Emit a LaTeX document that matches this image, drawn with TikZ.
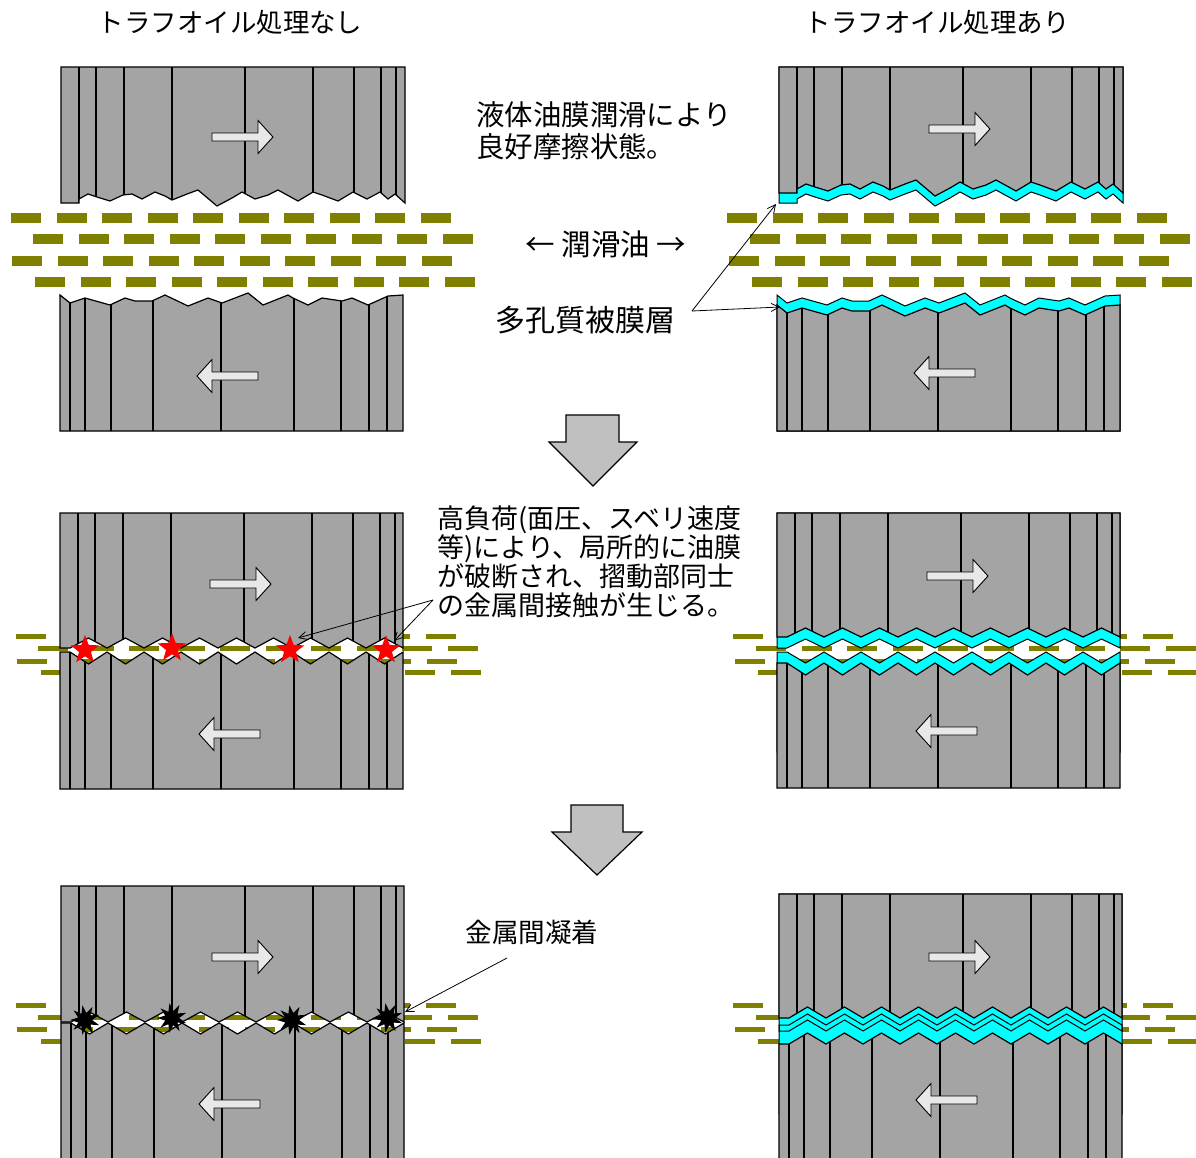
\documentclass[tikz,border=0pt]{standalone}
\usepackage{fontspec}
\setmainfont{Noto Sans CJK JP}
\usetikzlibrary{shapes.geometric,arrows.meta}

\definecolor{metal}{RGB}{164,164,164}
\definecolor{coatc}{RGB}{0,255,255}
\definecolor{oilc}{RGB}{128,128,0}
\definecolor{arrfill}{RGB}{232,232,232}
\definecolor{bigarr}{RGB}{192,192,192}

% regular zigzag, even vertices at y=#1, odd vertices at y=#2
\newcommand\zigpts[2]{\foreach \k in {0,...,8}{ -- ({10+37*\k},#1) -- ({28.5+37*\k},#2)} -- (343,#1)}
% upper plate with a regular zigzag underside
\newcommand\upperreg[2]{(0,0) -- (0,#1) \zigpts{#1}{#2} -- (343,0) -- cycle}
% lower plate with a regular zigzag top, height #3
\newcommand\lowerreg[3]{(0,#3) -- (0,#1) \zigpts{#1}{#2} -- (343,#3) -- cycle}
% upper plate with a rough underside, shifted by \zo
\newcommand\upperirr{(0,0) -- (0,\zo+136) -- (18,\zo+136) -- (18,\zo+132) -- (27,\zo+127) -- (36,\zo+130) -- (49,\zo+134) -- (62,\zo+128) -- (71,\zo+127) -- (81,\zo+132) -- (94,\zo+125) -- (104,\zo+129) -- (111,\zo+133) -- (126,\zo+127) -- (137,\zo+123) -- (156,\zo+139) -- (171,\zo+131) -- (181,\zo+125) -- (194,\zo+132) -- (207,\zo+128) -- (217,\zo+123) -- (237,\zo+134) -- (252,\zo+125) -- (261,\zo+128) -- (277,\zo+134) -- (292,\zo+125) -- (306,\zo+132) -- (319,\zo+125) -- (327,\zo+132) -- (334,\zo+127) -- (344,\zo+136) -- (344,0) -- cycle}
% lower plate with a rough top, shifted by \zo
\newcommand\lowerirr{(0,136) -- (0,\zo+0) -- (10,\zo+8) -- (25,\zo+3) -- (50,\zo+10) -- (65,\zo+3) -- (75,\zo+6) -- (92,\zo+6) -- (105,\zo+0) -- (128,\zo+11) -- (148,\zo+3) -- (162,\zo+8) -- (188,\zo-2) -- (203,\zo+10) -- (228,\zo+0) -- (233,\zo+3) -- (248,\zo+10) -- (262,\zo+3) -- (282,\zo+6) -- (292,\zo+3) -- (308,\zo+10) -- (328,\zo+1) -- (343,\zo+0) -- (343,136) -- cycle}

% grain lines of upper and lower plates
\def\gU{18,35,63,111,184,252,293,320,335}
\def\gL{10,25,51,93,161,234,281,309,327}

% a metal plate: fill, grain clipped to the outline, outline
\newcommand\plate[2]{%
  \fill[platefill] #1;
  \begin{scope}\clip #1; \foreach \g in #2 {\draw[grain] (\g,-20) -- (\g,320);}\end{scope}
  \draw[edge] #1;}

% one row of oil dashes
\newcommand\oilrow[3]{\foreach \i in {0,...,9}{\fill[oilc] ({#1+45.5*\i},{#2-#3/2}) rectangle ++(30,#3);}}

\newcommand\ftitle{\fontsize{13.25pt}{16pt}\selectfont}
\newcommand\fnote{\fontsize{13.5pt}{14.5pt}\selectfont}

\begin{document}
\begin{tikzpicture}[x=0.5pt,y=-0.5pt,
  platefill/.style={fill=metal},
  grain/.style={draw=black,line width=0.55pt},
  edge/.style={draw=black,line width=0.6pt,line join=miter},
  coat/.style={fill=coatc,draw=black,line width=0.5pt},
  coatfill/.style={fill=coatc},
  coatedge/.style={draw=black,line width=0.5pt},
  blockarr/.style={fill=arrfill,draw=black,line width=0.45pt},
  bigdown/.style={fill=bigarr,draw=black,line width=0.6pt},
  leader/.style={draw=black,line width=0.4pt,-{Straight Barb[length=4pt,width=4pt]}},
  redstar/.style={star,star points=5,star point ratio=2.4,fill=red,minimum size=15pt,inner sep=0pt},
  splat/.style={star,star points=9,star point ratio=2.1,fill=black,minimum size=15pt,inner sep=0pt,rotate=10},
  rarr/.pic={\draw[blockarr] (0,-4) -- (46,-4) -- (46,-16.5) -- (61,0) -- (46,16.5) -- (46,4) -- (0,4) -- cycle;},
  larr/.pic={\draw[blockarr] (0,0) -- (15,-16.5) -- (15,-4) -- (61,-4) -- (61,4) -- (15,4) -- (15,16.5) -- cycle;}
]
\useasboundingbox (0,0) rectangle (1196,1158);
\clip (0,0) rectangle (1196,1158);
\fill[white] (0,0) rectangle (1196,1158);

% ---------- headings ----------
\node[font=\ftitle,inner sep=0pt] (ttl) at (230,22) {トラフオイル処理なし};
\node[font=\ftitle,inner sep=0pt] (ttr) at (937,22) {トラフオイル処理あり};

% ---------- stage 1, untreated ----------
\oilrow{11}{218}{10}\oilrow{33}{239}{10}\oilrow{12}{261}{10}\oilrow{35}{282}{10}
\begin{scope}[shift={(61,67)}]\def\zo{0}\plate{\upperirr}{\gU}\end{scope}
\begin{scope}[shift={(60,295)}]\def\zo{0}\plate{\lowerirr}{\gL}\end{scope}
\pic at (212,137) {rarr};
\pic at (197,376) {larr};

% ---------- stage 1, treated ----------
\oilrow{727}{218}{10}\oilrow{750}{239}{10}\oilrow{729}{261}{10}\oilrow{752}{282}{10}
\begin{scope}[shift={(779,67)}]
  \def\zo{0}\filldraw[coat] \upperirr;
  \def\zo{-10}\plate{\upperirr}{\gU}
\end{scope}
\begin{scope}[shift={(777,295)}]
  \def\zo{0}\filldraw[coat] \lowerirr;
  \def\zo{10}\plate{\lowerirr}{\gL}
\end{scope}
\pic at (929,129) {rarr};
\pic at (914,373) {larr};

% ---------- stage 2, untreated ----------
\oilrow{16}{636}{5}\oilrow{38}{648}{5}\oilrow{17}{661}{5}\oilrow{41}{672}{5}
\begin{scope}[shift={(60,513)}]\plate{\upperreg{135}{125}}{\gU}\end{scope}
\begin{scope}[shift={(60,652)}]\plate{\lowerreg{0}{12}{137}}{\gL}\end{scope}
\pic at (210,584) {rarr};
\pic at (199,734) {larr};
\node[redstar] (rs1) at (85,650) {};
\node[redstar] (rs2) at (172,648) {};
\node[redstar] (rs3) at (290,650) {};
\node[redstar] (rs4) at (386,650) {};

% ---------- stage 2, treated ----------
\oilrow{733}{636}{5}\oilrow{756}{648}{5}\oilrow{735}{661}{5}\oilrow{758}{672}{5}
\begin{scope}[shift={(777,513)}]
  \filldraw[coat] \upperreg{135}{126};
  \plate{\upperreg{124}{115}}{\gU}
\end{scope}
\begin{scope}[shift={(777,652)}]
  \filldraw[coat] \lowerreg{0}{11}{100};
  \plate{\lowerreg{11}{23}{136}}{\gL}
\end{scope}
\pic at (927,576) {rarr};
\pic at (916,731) {larr};

% ---------- stage 3, untreated ----------
\oilrow{16}{1005}{5}\oilrow{38}{1017}{5}\oilrow{17}{1029}{5}\oilrow{41}{1041}{5}
\begin{scope}[shift={(61,886)}]\plate{\upperreg{136}{126}}{\gU}\end{scope}
\begin{scope}[shift={(61,1022)}]\plate{\lowerreg{1}{12}{150}}{\gL}\end{scope}
\pic at (212,957) {rarr};
\pic at (199,1104) {larr};
\node[splat] (bs1) at (85,1020) {};
\node[splat] (bs2) at (172,1018) {};
\node[splat] (bs3) at (292,1020) {};
\node[splat] (bs4) at (388,1018) {};

% ---------- stage 3, treated ----------
\oilrow{733}{1005}{5}\oilrow{756}{1017}{5}\oilrow{735}{1029}{5}\oilrow{758}{1041}{5}
\begin{scope}[shift={(779,1014)}]\fill[coatfill] \lowerreg{11}{0}{100};\end{scope}
\begin{scope}[shift={(779,894)}]\fill[coatfill] \upperreg{137}{126};\end{scope}
\begin{scope}[shift={(779,1014)}]\draw[coatedge] \lowerreg{11}{0}{100};\end{scope}
\begin{scope}[shift={(779,894)}]\draw[coatedge] \upperreg{137}{126};\end{scope}
\begin{scope}[shift={(779,894)}]\plate{\upperreg{124}{113}}{\gU}\end{scope}
\begin{scope}[shift={(779,1014)}]\plate{\lowerreg{30}{19}{150}}{\gL}\end{scope}
\pic at (929,957) {rarr};
\pic at (916,1100) {larr};

% ---------- transition arrows ----------
\filldraw[bigdown] (566,415) -- (619,415) -- (619,442) -- (637,442) -- (593,486) -- (549,442) -- (566,442) -- cycle;
\filldraw[bigdown] (571,805) -- (623,805) -- (623,832) -- (642,832) -- (597,875) -- (552,832) -- (571,832) -- cycle;

% ---------- annotations ----------
\node[anchor=west,align=left,inner sep=0pt,font=\fontsize{14.2pt}{16pt}\selectfont] (good) at (476,131) {液体油膜潤滑により\\良好摩擦状態。};
\node[inner sep=0pt,font=\fontsize{14.75pt}{16pt}\selectfont] (oiltxt) at (606,244) {← 潤滑油 →};
\node[anchor=west,inner sep=0pt,font=\fontsize{15pt}{16pt}\selectfont] (porous) at (495,320) {多孔質被膜層};
\coordinate (pj) at (692,311);
\coordinate (ctop) at (776,204);
\coordinate (cbot) at (780,307);
\draw[leader] (pj) -- (ctop);
\draw[leader] (pj) -- (cbot);

\node[anchor=west,align=left,inner sep=0pt,font=\fnote] (load) at (437,562) {高負荷(面圧、スベリ速度\\等)により、局所的に油膜\\が破断され、摺動部同士\\の金属間接触が生じる。};
\coordinate (lj) at (433,600);
\coordinate (lc1) at (298,638);
\coordinate (lc2) at (394,641);
\draw[leader] (lj) -- (lc1);
\draw[leader] (lj) -- (lc2);

\node[inner sep=0pt,font=\fontsize{13.3pt}{16pt}\selectfont] (adh) at (532,932) {金属間凝着};
\coordinate (aj) at (507,958);
\coordinate (ac) at (405,1012);
\draw[leader] (aj) -- (ac);
\end{tikzpicture}
\end{document}
